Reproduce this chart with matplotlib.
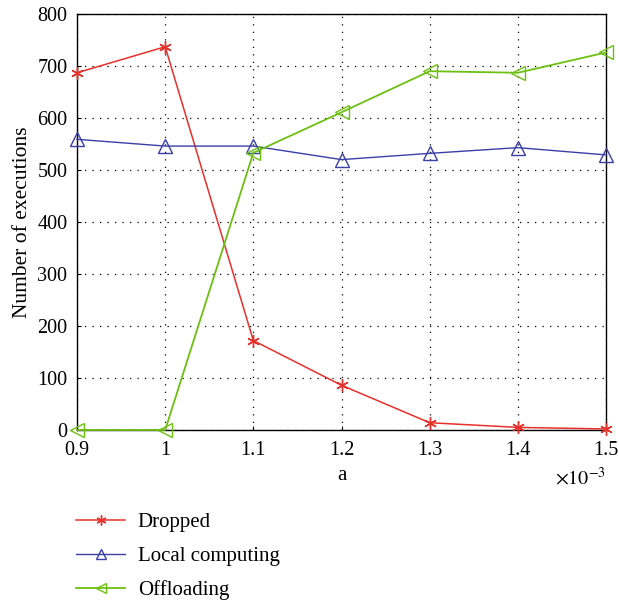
import matplotlib
matplotlib.use("Agg")
import matplotlib.pyplot as plt

plt.rcParams['font.family'] = ['Liberation Serif', 'DejaVu Serif']
plt.rcParams['mathtext.fontset'] = 'stix'

a_vals = [0.9, 1.0, 1.1, 1.2, 1.3, 1.4, 1.5]
dropped = [687, 737, 172, 86, 14, 5, 2]
local = [559, 546, 546, 520, 532, 543, 529]
offloading = [0, 0, 533, 611, 690, 687, 726]
x_ticks = [0.9, 1.0, 1.1, 1.2, 1.3, 1.4, 1.5]
x_ticklabels = ['0.9', '1', '1.1', '1.2', '1.3', '1.4', '1.5']
y_ticks = [0, 100, 200, 300, 400, 500, 600, 700, 800]

W, H = 619, 606
fig = plt.figure(figsize=(W / 100, H / 100), dpi=100)
ax = fig.add_axes([77 / W, 1 - 430 / H, (606 - 77) / W, (430 - 14) / H])

red = '#e8302a'
blue = '#3a3ea8'
green = '#6cc010'

l1, = ax.plot(a_vals, dropped, color=red, marker=(6, 2, 0), markersize=9, lw=1.1,
              markeredgewidth=1.0, label='Dropped', clip_on=False, zorder=3)
l2, = ax.plot(a_vals, local, color=blue, marker='^', markersize=9.5, lw=1.0,
              markerfacecolor='none', markeredgewidth=1.0, label='Local computing', clip_on=False, zorder=3)
l3, = ax.plot(a_vals, offloading, color=green, marker='<', markersize=9.5, lw=1.3,
              markerfacecolor='none', markeredgewidth=1.0, label='Offloading', clip_on=False, zorder=3)

ax.set_xlim(0.9, 1.5)
ax.set_ylim(0, 800)
ax.set_xticks(x_ticks)
ax.set_xticklabels(x_ticklabels)
ax.set_yticks(y_ticks)
ax.tick_params(direction='in', length=3, labelsize=14.5, width=0.8)
ax.tick_params(axis='y', pad=7)
ax.tick_params(axis='x', pad=8)
ax.grid(True, color='black', linestyle=(0, (1, 5)), linewidth=0.9)
for s in ax.spines.values():
    s.set_linewidth(1.0)

ax.set_xlabel('a', fontsize=15, labelpad=4)
ax.set_ylabel('Number of executions', fontsize=15.5, labelpad=4)
fig.text(606 / W, 1 - 479 / H, r'$\times10^{-3}$', ha='right', va='center', fontsize=14.5)

fig.legend(handles=[l1, l2, l3], loc='upper left', bbox_to_anchor=(0.093, 0.185),
           frameon=False, fontsize=15, handlelength=2.35, labelspacing=0.68, handletextpad=0.6,
           markerscale=0.8)

fig.savefig('out.png', dpi=100)
